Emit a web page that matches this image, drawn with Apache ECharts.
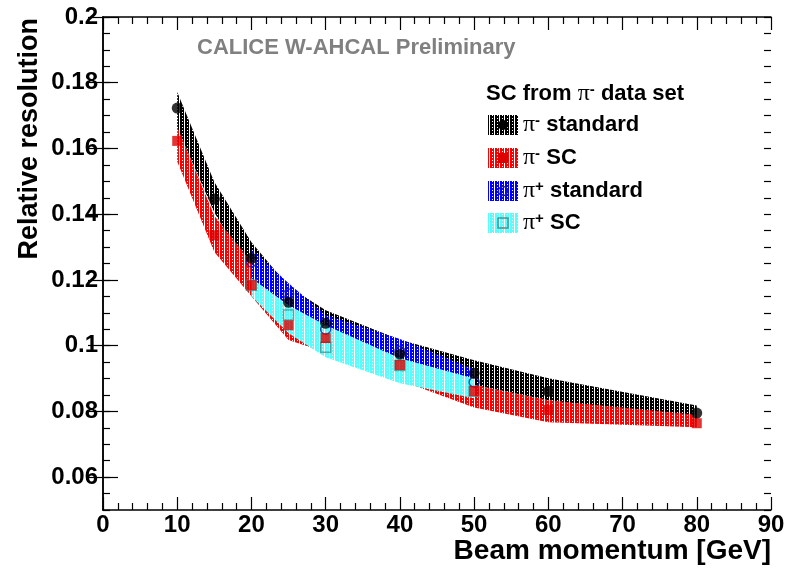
<!DOCTYPE html>
<html>
<head>
<meta charset="utf-8">
<script src="https://cdn.jsdelivr.net/npm/echarts@6/dist/echarts.min.js"></script>
<style>
  html, body { margin: 0; padding: 0; background: #fff; }
  #chart { width: 785px; height: 569px; }
</style>
</head>
<body>
<div id="chart"></div>
<script>
// Beam momenta [GeV] and relative energy resolution for each reconstruction
const momenta = [10, 15, 20, 25, 30, 40, 50, 60, 80];
const piMinusStd = [0.1723, 0.1446, 0.1266, 0.1132, 0.1068, 0.0974, 0.0916, 0.0861, 0.0795];
const piMinusStdLow = [0.1662, 0.1405, 0.1215, 0.1080, 0.1025, 0.0935, 0.0880, 0.0834, 0.0780];
const piMinusStdHigh = [0.1772, 0.1498, 0.1315, 0.1180, 0.1108, 0.1018, 0.0956, 0.0901, 0.0818];
const piMinusSC = [0.1623, 0.1336, 0.1184, 0.1062, 0.1023, 0.0941, 0.0862, 0.0804, 0.0764];
const piMinusSCLow = [0.1560, 0.1285, 0.1150, 0.1017, 0.0980, 0.0895, 0.0812, 0.0767, 0.0752];
const piMinusSCHigh = [0.1665, 0.1395, 0.1254, 0.1110, 0.1060, 0.0980, 0.0880, 0.0834, 0.0790];

const piPlusMomenta = [20, 25, 30, 40, 50];
const piPlusStd = [0.1255, 0.1157, 0.1050, 0.0983, 0.0889];
const piPlusStdLow = [0.1205, 0.1123, 0.1030, 0.0962, 0.0858];
const piPlusStdHigh = [0.1295, 0.1190, 0.1093, 0.1020, 0.0928];
const piPlusSC = [0.1184, 0.1093, 0.0995, 0.0940, 0.0861];
const piPlusSCLow = [0.1150, 0.1038, 0.0965, 0.0886, 0.0840];
const piPlusSCHigh = [0.1205, 0.1123, 0.1062, 0.0962, 0.0900];

const yMajorTicks = [0.06, 0.08, 0.10, 0.12, 0.14, 0.16, 0.18, 0.20];

const FONT = "'Liberation Sans', Arial, Helvetica, sans-serif";
const SERIF = "'Liberation Serif', 'DejaVu Serif', serif";

// dense hatched fill with thin white columns
function hatch(color) {
  const c = document.createElement('canvas');
  c.width = 5; c.height = 3;
  const g = c.getContext('2d');
  g.fillStyle = color; g.fillRect(0, 0, 5, 3);
  g.fillStyle = '#ffffff';
  g.fillRect(4, 0, 1, 3);
  g.fillRect(2, 1, 1, 1);
  return { image: c, repeat: 'repeat' };
}

const fills = {
  black: hatch('#000000'),
  red: hatch('#ff0000'),
  blue: hatch('#0000ff'),
  cyan: hatch('#55ffff')
};

function band(name, xs, lo, hi, fill) {
  return {
    type: 'custom', name, silent: true, clip: true, z: 2,
    data: xs.map((x, i) => [x, lo[i], hi[i]]),
    encode: { x: 0, y: [1, 2] },
    renderItem(params, api) {
      if (params.dataIndex !== 0) return null;
      const top = xs.map((x, i) => api.coord([x, hi[i]]));
      const bottom = xs.map((x, i) => api.coord([x, lo[i]])).reverse();
      return { type: 'polygon', shape: { points: top.concat(bottom) }, style: { fill } };
    }
  };
}

function markers(name, xs, ys, symbol, size, style) {
  return {
    type: 'scatter', name, silent: true, z: 5,
    symbol, symbolSize: size,
    data: xs.map((x, i) => [x, ys[i]]),
    itemStyle: style
  };
}

const tickLine = { color: '#000', width: 1.2 };
function xAxisDef(pos, labels) {
  return {
    type: 'value', position: pos, min: 0, max: 90, interval: 10,
    axisLine: { show: true, lineStyle: { color: '#000', width: 1.5 } },
    axisTick: { show: true, inside: true, length: 13, lineStyle: tickLine },
    minorTick: { show: true, splitNumber: 5, length: 7, lineStyle: tickLine },
    splitLine: { show: false },
    axisLabel: labels ? { show: true, color: '#000', fontFamily: FONT, fontWeight: 'bold', fontSize: 24, margin: 3 } : { show: false }
  };
}
function yAxisDef(pos, labels) {
  return {
    type: 'value', position: pos, min: 0.05, max: 0.2,
    axisLine: { show: true, lineStyle: { color: '#000', width: 1.5 } },
    axisTick: { show: true, inside: true, length: 15, lineStyle: tickLine, customValues: yMajorTicks },
    splitLine: { show: false },
    axisLabel: labels ? {
      show: true, customValues: yMajorTicks, color: '#000', fontFamily: FONT, fontWeight: 'bold', fontSize: 24, margin: 5,
      formatter: v => String(+(+v).toFixed(2))
    } : { show: false }
  };
}
function yMinorDef(pos) {
  return {
    type: 'value', position: pos, min: 0.05, max: 0.2, interval: 0.005,
    axisLine: { show: false },
    axisTick: { show: true, inside: true, length: 7, lineStyle: tickLine },
    splitLine: { show: false },
    axisLabel: { show: false }
  };
}

const legendX = 488, legendRows = [125, 158, 191, 223];
const richText = {
  b: { fontFamily: FONT, fontWeight: 'bold', fontSize: 22, fill: '#000' },
  pi: { fontFamily: SERIF, fontWeight: 'normal', fontSize: 24, fill: '#000' },
  sup: { fontFamily: FONT, fontWeight: 'bold', fontSize: 15, fill: '#000', verticalAlign: 'top' }
};
function legendText(y, str) {
  return { type: 'text', x: 523, y, style: { text: str, rich: richText, verticalAlign: 'middle', align: 'left' } };
}
function legendBox(y, fill) {
  return { type: 'rect', shape: { x: legendX, y: y - 10, width: 30, height: 20 }, style: { fill } };
}

const chart = echarts.init(document.getElementById('chart'), null, { renderer: 'canvas' });
chart.setOption({
  animation: false,
  backgroundColor: '#ffffff',
  grid: { left: 103, right: 14, top: 17, bottom: 59, containLabel: false, outerBoundsMode: 'none' },
  xAxis: [xAxisDef('bottom', true), xAxisDef('top', false)],
  yAxis: [yAxisDef('left', true), yAxisDef('right', false), yMinorDef('left'), yMinorDef('right')],
  series: [
    band('π- standard band', momenta, piMinusStdLow, piMinusStdHigh, fills.black),
    band('π- SC band', momenta, piMinusSCLow, piMinusSCHigh, fills.red),
    band('π+ standard band', piPlusMomenta, piPlusStdLow, piPlusStdHigh, fills.blue),
    band('π+ SC band', piPlusMomenta, piPlusSCLow, piPlusSCHigh, fills.cyan),
    markers('π+ SC', piPlusMomenta, piPlusSC, 'rect', 10, { color: 'rgba(0,0,0,0)', borderColor: '#4f8f8f', borderWidth: 1.5 }),
    markers('π+ standard', piPlusMomenta, piPlusStd, 'circle', 10, { color: 'rgba(0,0,0,0)', borderColor: '#1c1c9a', borderWidth: 1.5 }),
    markers('π- SC', momenta, piMinusSC, 'rect', 10, { color: '#dd0000' }),
    markers('π- standard', momenta, piMinusStd, 'circle', 11, { color: '#000000' })
  ],
  graphic: [
    { type: 'text', x: 197, y: 48, style: { text: 'CALICE W-AHCAL Preliminary', font: `bold 22px ${FONT}`, fill: '#808080', verticalAlign: 'middle' } },
    { type: 'text', x: 30, y: 18, rotation: Math.PI / 2, style: { text: 'Relative resolution', font: `bold 27px ${FONT}`, fill: '#000', align: 'right', verticalAlign: 'middle' } },
    { type: 'text', x: 771, y: 551, style: { text: 'Beam momentum [GeV]', font: `bold 28px ${FONT}`, fill: '#000', align: 'right', verticalAlign: 'middle' } },
    { type: 'text', x: 486, y: 94, style: { text: '{b|SC from }{pi|π}{sup|-}{b| data set}', rich: richText, verticalAlign: 'middle', align: 'left' } },
    legendBox(legendRows[0], fills.black),
    { type: 'circle', shape: { cx: legendX + 15, cy: legendRows[0], r: 5 }, style: { fill: '#000' } },
    legendText(legendRows[0], '{pi|π}{sup|-}{b| standard}'),
    legendBox(legendRows[1], fills.red),
    { type: 'rect', shape: { x: legendX + 10, y: legendRows[1] - 5, width: 10, height: 10 }, style: { fill: '#dd0000' } },
    legendText(legendRows[1], '{pi|π}{sup|-}{b| SC}'),
    legendBox(legendRows[2], fills.blue),
    { type: 'circle', shape: { cx: legendX + 15, cy: legendRows[2], r: 4.5 }, style: { fill: 'none', stroke: '#1c1c9a', lineWidth: 1.5 } },
    legendText(legendRows[2], '{pi|π}{sup|+}{b| standard}'),
    legendBox(legendRows[3], fills.cyan),
    { type: 'rect', shape: { x: legendX + 10, y: legendRows[3] - 5, width: 10, height: 10 }, style: { fill: 'none', stroke: '#4f8f8f', lineWidth: 1.5 } },
    legendText(legendRows[3], '{pi|π}{sup|+}{b| SC}')
  ]
});
</script>
</body>
</html>
